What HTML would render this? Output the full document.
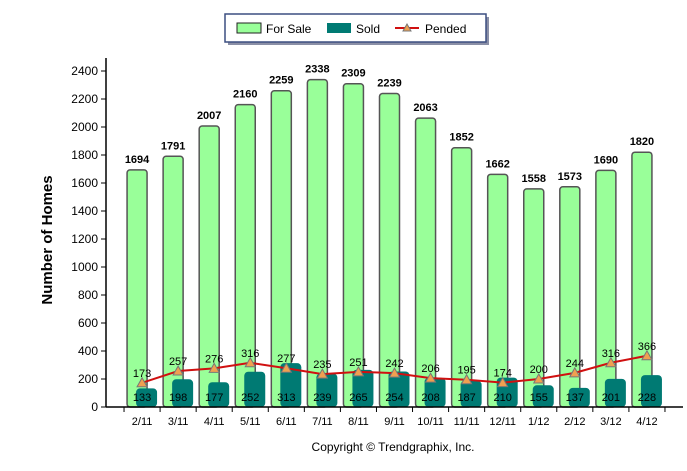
<!DOCTYPE html>
<html><head><meta charset="utf-8"><style>
body{margin:0;background:#fff;}
svg{display:block;font-family:"Liberation Sans",Arial,sans-serif;}
</style></head><body>
<svg id="c" width="687" height="471">
<g>
<rect x="228" y="17" width="261" height="28" fill="#8a8fa6"/>
<rect x="225" y="14" width="261" height="28" fill="#fff" stroke="#3c4f80" stroke-width="1.5"/>
<rect x="237" y="23" width="24" height="10" fill="#99ff99" stroke="#222"/>
<text x="266" y="33" font-size="12">For Sale</text>
<rect x="327" y="23" width="24" height="10" fill="#007a73"/>
<text x="356" y="33" font-size="12">Sold</text>
<line x1="395" y1="28" x2="419" y2="28" stroke="#d01010" stroke-width="2"/>
<polygon points="407,24 411,31 403,31" fill="#f0a050" stroke="#777"/>
<text x="425" y="33" font-size="12">Pended</text>
</g>
<text transform="translate(52,240) rotate(-90)" text-anchor="middle" font-size="15" font-weight="bold">Number of Homes</text>
<text x="393" y="451" text-anchor="middle" font-size="12">Copyright © Trendgraphix, Inc.</text>
<g id="grid"></g><g id="bars"></g><g id="line"></g><g id="axes"></g>
</svg>
<script>
const categories=["2/11","3/11","4/11","5/11","6/11","7/11","8/11","9/11","10/11","11/11","12/11","1/12","2/12","3/12","4/12"];
const forSale=[1694,1791,2007,2160,2259,2338,2309,2239,2063,1852,1662,1558,1573,1690,1820];
const sold=[133,198,177,252,313,239,265,254,208,187,210,155,137,201,228];
const pended=[173,257,276,316,277,235,251,242,206,195,174,200,244,316,366];
const yTicks=[0,200,400,600,800,1000,1200,1400,1600,1800,2000,2200,2400];
const NS="http://www.w3.org/2000/svg";
const x0=106,x1=683,y0=407,yTop=71,yMax=2400;
const step=(x1-x0)/16;
const X=i=>x0+step*(i+1);
const Y=v=>y0-(v/yMax)*(y0-yTop);
function mk(t,a,p){const e=document.createElementNS(NS,t);for(const k in a)e.setAttribute(k,a[k]);p.appendChild(e);return e;}
const bars=document.getElementById('bars'),line=document.getElementById('line'),axes=document.getElementById('axes');
forSale.forEach((v,i)=>{
 const r=mk('rect',{x:X(i)-15,y:Y(v),width:20,height:y0-Y(v),rx:3,fill:'#99ff99',stroke:'#555','stroke-width':1.5},bars);
 
 
 const t=mk('text',{x:X(i)-5,y:Y(v)-7,'text-anchor':'middle','font-size':11,'font-weight':'bold'},bars);t.textContent=v;
 
 
});
sold.forEach((v,i)=>{
 const r=mk('rect',{x:X(i)-6,y:Y(v),width:21,height:y0-Y(v),rx:4,fill:'#007a73'},bars);
 
 
});
let d='';pended.forEach((v,i)=>{d+=(i?'L':'M')+X(i)+','+Y(v);});
const pl=mk('path',{d:d,fill:'none',stroke:'#d01010','stroke-width':2},line);


pended.forEach((v,i)=>{
 const x=X(i),y=Y(v);
 const p=mk('polygon',{points:`${x},${y-5} ${x+5},${y+4} ${x-5},${y+4}`,fill:'#f0a050',stroke:'#777'},line);
 
 
 const t=mk('text',{x:x,y:y-6,'text-anchor':'middle','font-size':11},line);t.textContent=v;
 
 
});
sold.forEach((v,i)=>{
 const t=mk('text',{x:X(i),y:y0-6,'text-anchor':'middle','font-size':11},line);t.textContent=v;
 
 
});
const ya=mk('line',{x1:x0,y1:58,x2:x0,y2:y0,stroke:'#000','stroke-width':1.5},axes);


const xa=mk('line',{x1:x0,y1:y0,x2:x1,y2:y0,stroke:'#000','stroke-width':1.5},axes);


yTicks.forEach(v=>{
 mk('line',{x1:x0-5,y1:Y(v),x2:x0,y2:Y(v),stroke:'#000'},axes);
 const t=mk('text',{x:x0-8,y:Y(v)+4,'text-anchor':'end','font-size':12},axes);t.textContent=v;
 
 
});
for(let i=0;i<=categories.length;i++){mk('line',{x1:X(i)-step/2,y1:y0,x2:X(i)-step/2,y2:y0+5,stroke:'#000'},axes);}
categories.forEach((c,i)=>{
 const t=mk('text',{x:X(i),y:y0+18,'text-anchor':'middle','font-size':11},axes);t.textContent=c;
 
 
});
</script>
</body></html>
